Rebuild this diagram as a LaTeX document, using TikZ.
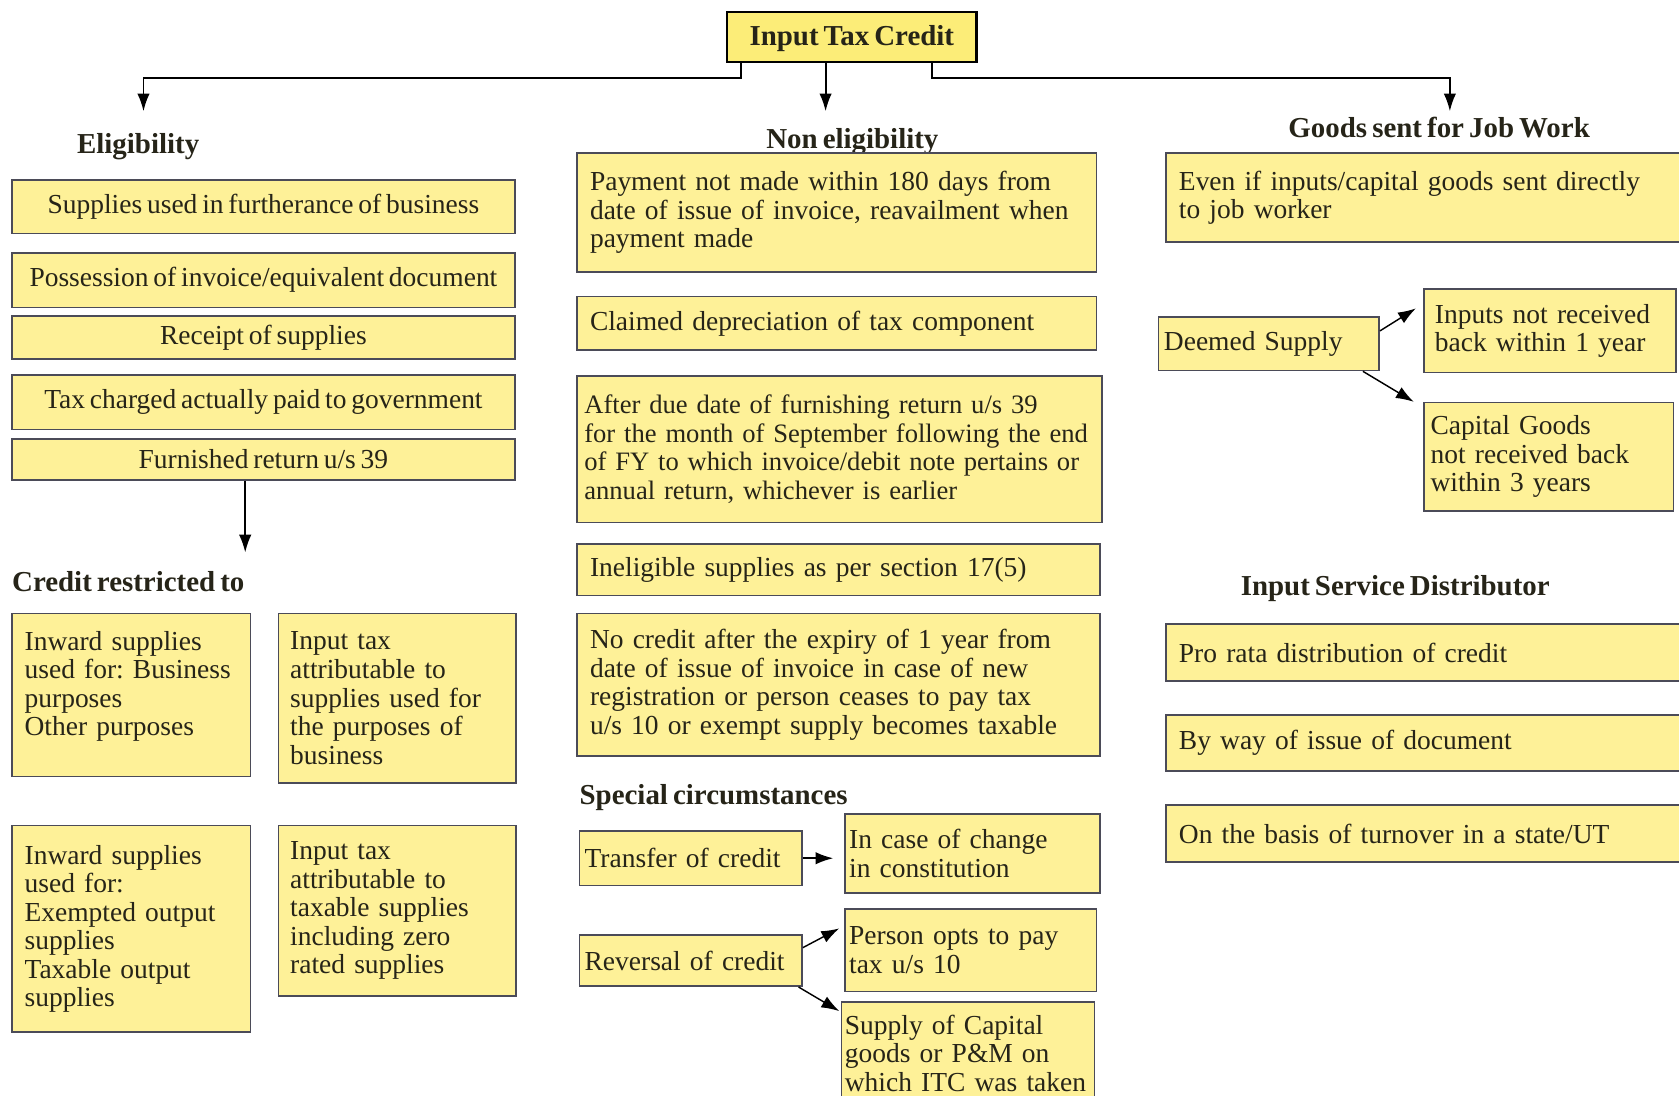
\documentclass[tikz,border=0pt]{standalone}
\usepackage{fontspec}
\setmainfont{Liberation Serif}[WordSpace=0.7]
\usetikzlibrary{arrows.meta}

\definecolor{itcfill}{RGB}{254,241,152}
\definecolor{itctitle}{RGB}{252,237,120}
\definecolor{itcline}{RGB}{75,75,88}
\definecolor{itcink}{RGB}{38,36,24}

\newcommand\itcbody{\fontsize{15.4}{16}\selectfont\frenchspacing}
\newcommand\itcnarrow{\fontsize{14.9}{16}\selectfont\frenchspacing}
\newcommand\itchead{\fontsize{16.2}{17}\selectfont\bfseries}

\tikzset{
	itcbox/.style={draw=itcline, fill=itcfill, line width=0.9pt, text=itcink,
		font=\itcbody, inner ysep=0pt},
	elbox/.style={itcbox, align=center, minimum width=282pt, inner xsep=0pt},
	txbox/.style={itcbox, align=left},
	itchd/.style={font=\itchead, text=itcink, inner sep=0pt},
	itcarrow/.style={->, >={Latex[length=10pt,width=7pt]}, line width=1.1pt},
	itcsmall/.style={->, >={Latex[length=10pt,width=7pt]}, line width=0.8pt},
}

\begin{document}
\begin{tikzpicture}[x=0.6pt, y=-0.6pt]
	\def \wide {276.6pt}
	\def \isdw {277.2pt}

	\clip (0,0) rectangle (1568,1023);

	\node[itcbox, fill=itctitle, draw=black, line width=1.3pt, font=\itchead, text height=13pt,
		minimum width=139.8pt, minimum height=28.2pt, inner xsep=0pt] (itc) at (795.5,34.5)
		{Input Tax Credit};

	% headings
	\node[itchd] (elig)    at (129,137)  {Eligibility};
	\node[itchd] (nonelig) at (796,132)  {Non eligibility};
	\node[itchd] (jobwork) at (1344,119) {Goods sent for Job Work};
	\node[itchd, anchor=west] (credit)  at (11,543)  {Credit restricted to};
	\node[itchd, anchor=west] (special) at (541,745) {Special circumstances};
	\node[itchd] (isd)     at (1303,550) {Input Service Distributor};

	% eligibility
	\node[elbox, minimum height=30pt]   (e1) at (246,193)
		{Supplies used in furtherance of business};
	\node[elbox, minimum height=30.6pt] (e2) at (246,261.5)
		{Possession of invoice/equivalent document};
	\node[elbox, minimum height=24pt]   (e3) at (246,315)
		{Receipt of supplies};
	\node[elbox, minimum height=30.6pt] (e4) at (246,375.5)
		{Tax charged actually paid to government};
	\node[elbox, minimum height=22.8pt] (e5) at (246,429)
		{Furnished return u/s 39};

	% credit restricted to
	\node[txbox, text width=119.4pt, inner xsep=7.2pt, minimum height=91.2pt, text depth=61pt] (ca) at (122.5,649)
		{Inward supplies\\used for: Business\\purposes\\Other purposes};
	\node[txbox, text width=120pt, inner xsep=6.6pt, minimum height=94.8pt] (cb) at (371,652)
		{Input tax\\attributable to\\supplies used for\\the purposes of\\business};
	\node[txbox, text width=119.4pt, inner xsep=7.2pt, minimum height=115.8pt] (cc) at (122.5,867.5)
		{Inward supplies\\used for:\\Exempted output\\supplies\\Taxable output\\supplies};
	\node[txbox, text width=120pt, inner xsep=6.6pt, minimum height=95.4pt] (cd) at (371,850.5)
		{Input tax\\attributable to\\taxable supplies\\including zero\\rated supplies};

	% non eligibility
	\node[txbox, text width=\wide, inner xsep=7.2pt, minimum height=66.6pt] (n1) at (781.5,198.5)
		{Payment not made within 180 days from\\date of issue of invoice, reavailment when\\payment made};
	\node[txbox, text width=\wide, inner xsep=7.2pt, minimum height=30pt] (n2) at (781.5,302)
		{Claimed depreciation of tax component};
	\node[txbox, font=\itcnarrow, text width=286pt, inner xsep=4pt, minimum height=82.2pt] (n3) at (784,419.5)
		{After due date of furnishing return u/s 39\\for the month of September following the end\\of FY to which invoice/debit note pertains or\\annual return, whichever is earlier};
	\node[txbox, text width=278.4pt, inner xsep=7.2pt, minimum height=28.8pt] (n4) at (783,532)
		{Ineligible supplies as per section 17(5)};
	\node[txbox, text width=278.4pt, inner xsep=7.2pt, minimum height=79.8pt] (n5) at (783,639.5)
		{No credit after the expiry of 1 year from\\date of issue of invoice in case of new\\registration or person ceases to pay tax\\u/s 10 or exempt supply becomes taxable};

	% special circumstances
	\node[txbox, text width=118.8pt, inner xsep=3pt, minimum height=30.6pt] (trans) at (645,801.5)
		{Transfer of credit};
	\node[txbox, text width=138pt, inner xsep=2.4pt, minimum height=44.4pt] (ichange) at (908,797)
		{In case of change\\in constitution};
	\node[txbox, text width=118.8pt, inner xsep=3pt, minimum height=28.8pt] (rev) at (645,897)
		{Reversal of credit};
	\node[txbox, text width=136.2pt, inner xsep=2.4pt, minimum height=46.2pt] (pers) at (906.5,887.5)
		{Person opts to pay\\tax u/s 10};
	\node[txbox, text width=138pt, inner xsep=1.8pt, minimum height=57pt] (supp) at (904,983.5)
		{Supply of Capital\\goods or P\&M on\\which ITC was taken};

	% goods sent for job work
	\node[txbox, text width=\isdw, inner xsep=7.2pt, minimum height=49.8pt] (job) at (1332,184.5)
		{Even if inputs/capital goods sent directly\\to job worker};
	\node[txbox, text width=117.6pt, inner xsep=3pt, minimum height=30pt] (deemed) at (1185,321)
		{Deemed Supply};
	\node[txbox, text width=129pt, inner xsep=6pt, minimum height=46.8pt] (inr) at (1447.5,309)
		{Inputs not received\\back within 1 year};
	\node[txbox, text width=132.6pt, inner xsep=3.6pt, minimum height=60.6pt] (cg) at (1446.5,426.5)
		{Capital Goods\\not received back\\within 3 years};

	% input service distributor
	\node[txbox, text width=\isdw, inner xsep=7.2pt, minimum height=31.8pt] (i1) at (1332,609.5)
		{Pro rata distribution of credit};
	\node[txbox, text width=\isdw, inner xsep=7.2pt, minimum height=31.2pt] (i2) at (1332,694)
		{By way of issue of document};
	\node[txbox, text width=\isdw, inner xsep=7.2pt, minimum height=31.8pt] (i3) at (1332,778.5)
		{On the basis of turnover in a state/UT};

	\coordinate (eligtip)    at (134,104);
	\coordinate (noneligtip) at (771,104);
	\coordinate (jobtip)     at (1354,104);
	\coordinate (credittip)  at (229,516);

	\draw[itcarrow] ([xshift=8.4pt]itc.south west) -- ++(0,14) -| (eligtip);
	\draw[itcarrow] (itc.south -| noneligtip) -- (noneligtip);
	\draw[itcarrow] ([xshift=-25.8pt]itc.south east) -- ++(0,14) -| (jobtip);
	\draw[itcarrow] (e5.south -| credittip) -- (credittip);

	\draw[itcarrow, shorten >=6pt] (trans.east) -- (trans.east -| ichange.west);
	\draw[itcsmall] ([yshift=7.2pt]rev.east) -- ([xshift=-2.7pt,yshift=12.3pt]pers.west);
	\draw[itcsmall] ([xshift=-2.4pt]rev.south east) -- ([xshift=-0.9pt,yshift=-5.4pt]supp.north west);
	\draw[itcsmall] ([yshift=7.2pt]deemed.east) -- ([xshift=-4.2pt,yshift=12.6pt]inr.west);
	\draw[itcsmall] ([xshift=-9.6pt]deemed.south east) -- ([xshift=-5.4pt]cg.north west);
\end{tikzpicture}
\end{document}
